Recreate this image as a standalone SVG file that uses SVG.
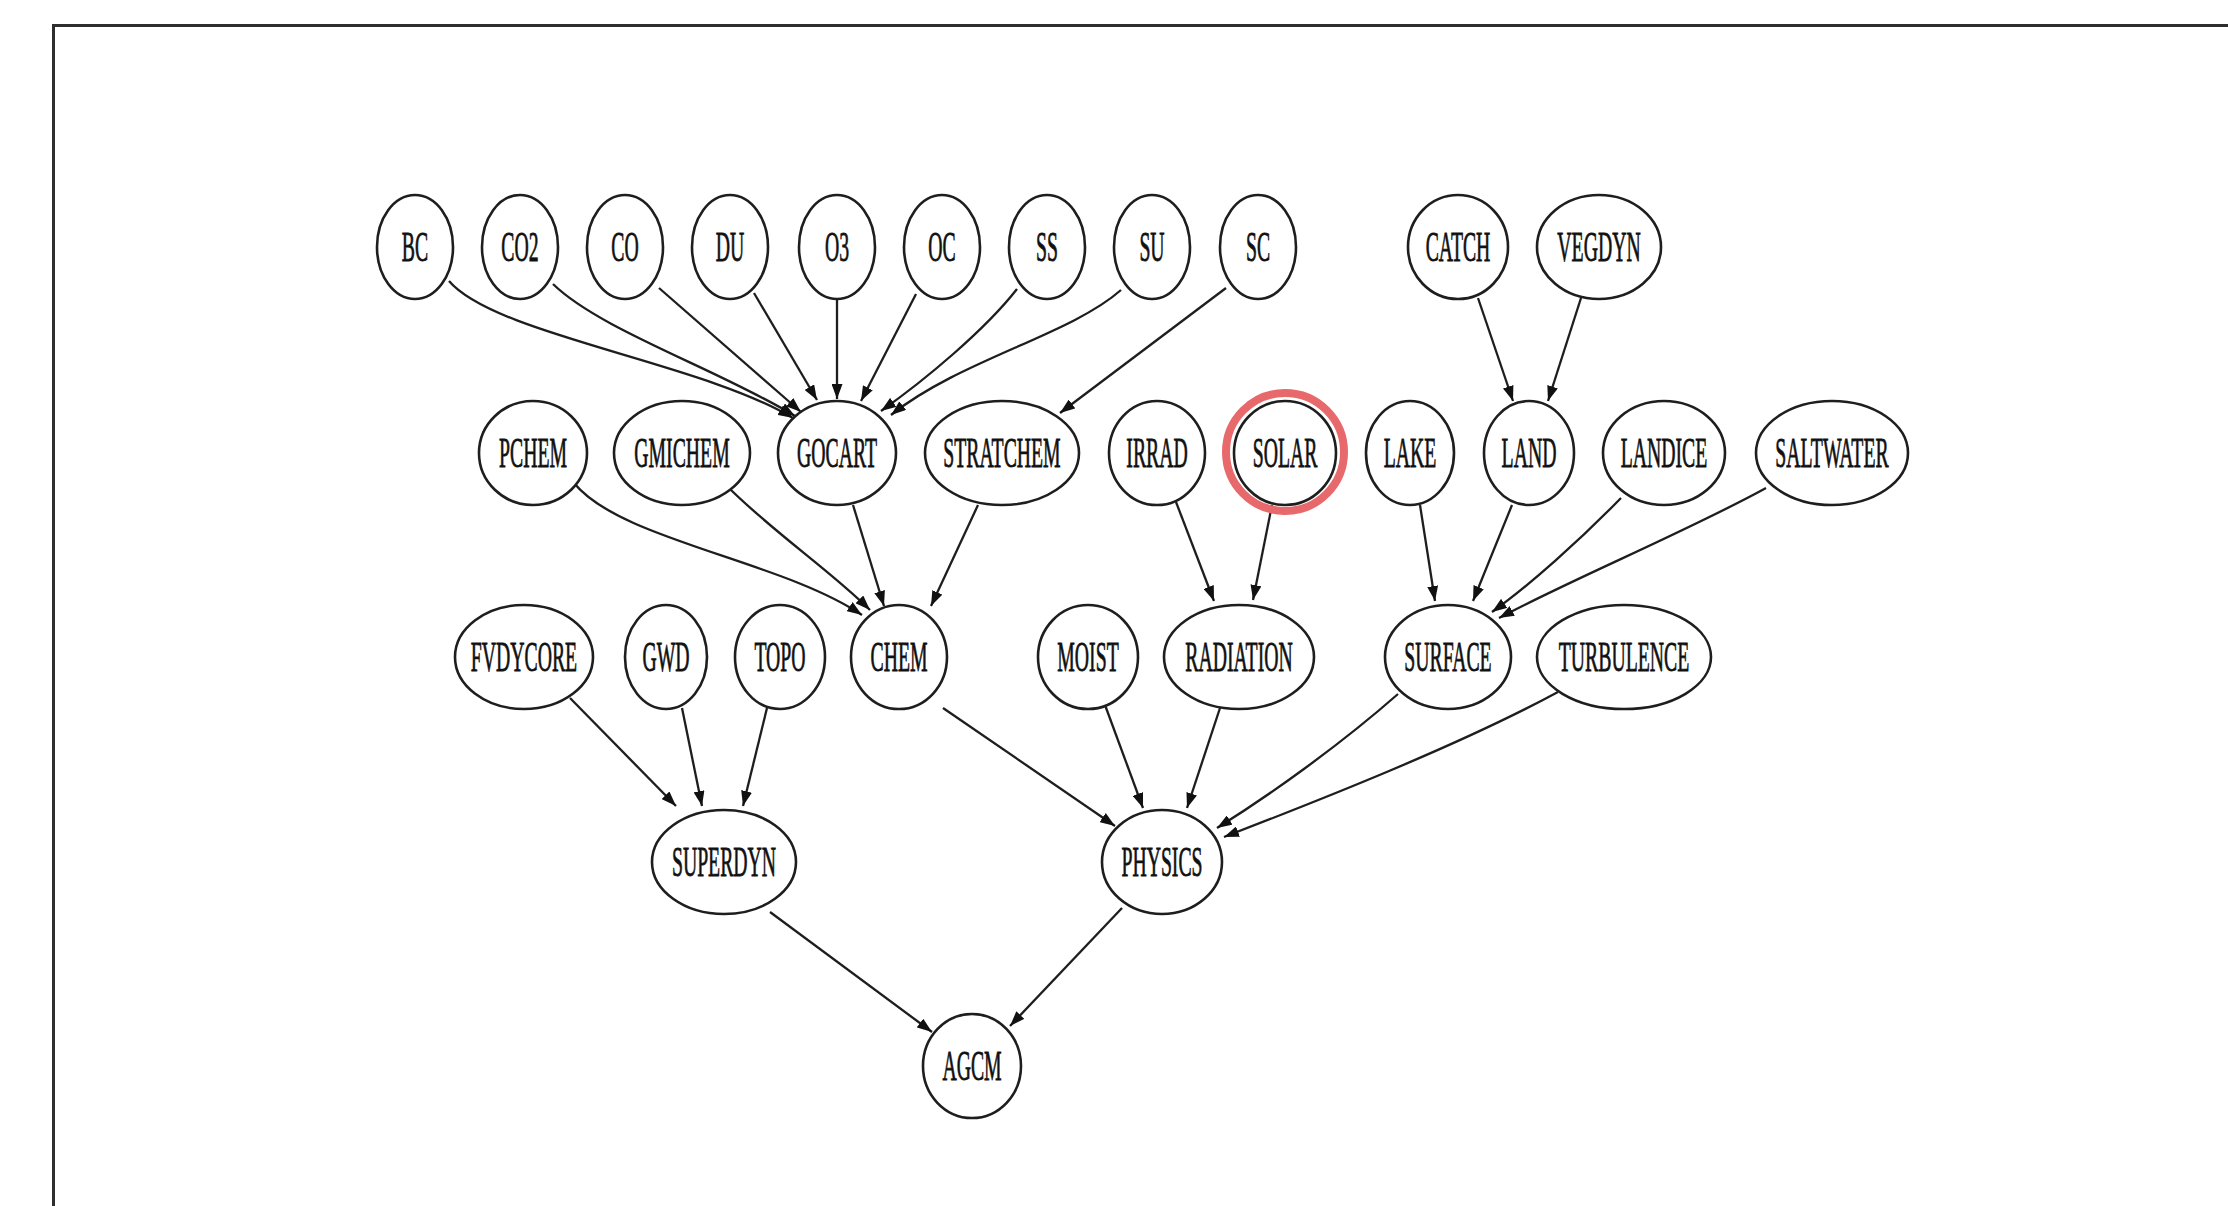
<svg xmlns="http://www.w3.org/2000/svg" width="2228" height="1206" viewBox="0 0 2228 1206">
<defs>
<style>
.node ellipse{fill:#ffffff;stroke:#1e1e1e;stroke-width:2.6}
.node text{font-family:"Liberation Serif","Times New Roman",serif;font-size:42px;fill:#111111;stroke:#111111;stroke-width:0.8;text-anchor:middle}
.edges path{fill:none;stroke:#1e1e1e;stroke-width:2.3}
.frame{fill:none;stroke:#2e2e2e;stroke-width:3}
.ring{fill:none;stroke:#E8696B;stroke-width:8}
</style>
<marker id="arr" markerUnits="userSpaceOnUse" markerWidth="16" markerHeight="11" refX="15" refY="5.5" orient="auto">
<path d="M0,0 L15,5.5 L0,11 z" fill="#111111"/>
</marker>
</defs>
<rect width="2228" height="1206" fill="#ffffff"/>
<path class="frame" d="M53.5,1206 L53.5,25.5 L2228,25.5"/>

<g id="connectors" class="edges">
<path marker-end="url(#arr)" d="M449,281 C495,335 700,362 793,418"/>
<path marker-end="url(#arr)" d="M553,284 C600,330 720,370 795,416"/>
<path marker-end="url(#arr)" d="M659,288 L801,412"/>
<path marker-end="url(#arr)" d="M754,293 L817,400"/>
<path marker-end="url(#arr)" d="M837,300 L837,399"/>
<path marker-end="url(#arr)" d="M916,294 L861,401"/>
<path marker-end="url(#arr)" d="M1017,289 C985,330 925,380 881,411"/>
<path marker-end="url(#arr)" d="M1121,290 C1070,335 960,360 891,415"/>
<path marker-end="url(#arr)" d="M1226,288 L1060,413"/>
<path marker-end="url(#arr)" d="M1478,298 L1513,401"/>
<path marker-end="url(#arr)" d="M1581,298 L1548,401"/>
<path marker-end="url(#arr)" d="M574,483 C620,540 780,560 862,615"/>
<path marker-end="url(#arr)" d="M726,485 C770,530 830,570 870,610"/>
<path marker-end="url(#arr)" d="M853,505 L884,606"/>
<path marker-end="url(#arr)" d="M978,505 L931,606"/>
<path marker-end="url(#arr)" d="M1176,502 L1214,601"/>
<path marker-end="url(#arr)" d="M1272,505 L1253,600"/>
<path marker-end="url(#arr)" d="M1420,505 L1435,601"/>
<path marker-end="url(#arr)" d="M1512,505 L1473,601"/>
<path marker-end="url(#arr)" d="M1621,498 C1580,540 1530,585 1492,612"/>
<path marker-end="url(#arr)" d="M1766,488 C1690,530 1570,580 1499,618"/>
<path marker-end="url(#arr)" d="M570,698 L676,806"/>
<path marker-end="url(#arr)" d="M682,708 L702,806"/>
<path marker-end="url(#arr)" d="M767,708 L743,806"/>
<path marker-end="url(#arr)" d="M943,708 L1115,826"/>
<path marker-end="url(#arr)" d="M1105,705 L1143,808"/>
<path marker-end="url(#arr)" d="M1220,708 L1187,808"/>
<path marker-end="url(#arr)" d="M1398,694 C1340,745 1270,795 1217,828"/>
<path marker-end="url(#arr)" d="M1558,692 C1460,745 1320,800 1224,837"/>
<path marker-end="url(#arr)" d="M770,912 L932,1032"/>
<path marker-end="url(#arr)" d="M1122,908 L1010,1026"/>
</g>

<g id="BC" class="node"><ellipse cx="415" cy="247" rx="38" ry="52"/><text transform="translate(415,261) scale(0.47,1)">BC</text></g>
<g id="CO2" class="node"><ellipse cx="520" cy="247" rx="38" ry="52"/><text transform="translate(520,261) scale(0.47,1)">CO2</text></g>
<g id="CO" class="node"><ellipse cx="625" cy="247" rx="38" ry="52"/><text transform="translate(625,261) scale(0.47,1)">CO</text></g>
<g id="DU" class="node"><ellipse cx="730" cy="247" rx="38" ry="52"/><text transform="translate(730,261) scale(0.47,1)">DU</text></g>
<g id="O3" class="node"><ellipse cx="837" cy="247" rx="38" ry="52"/><text transform="translate(837,261) scale(0.47,1)">O3</text></g>
<g id="OC" class="node"><ellipse cx="942" cy="247" rx="38" ry="52"/><text transform="translate(942,261) scale(0.47,1)">OC</text></g>
<g id="SS" class="node"><ellipse cx="1047" cy="247" rx="38" ry="52"/><text transform="translate(1047,261) scale(0.47,1)">SS</text></g>
<g id="SU" class="node"><ellipse cx="1152" cy="247" rx="38" ry="52"/><text transform="translate(1152,261) scale(0.47,1)">SU</text></g>
<g id="SC" class="node"><ellipse cx="1258" cy="247" rx="38" ry="52"/><text transform="translate(1258,261) scale(0.47,1)">SC</text></g>
<g id="CATCH" class="node"><ellipse cx="1458" cy="247" rx="50" ry="52"/><text transform="translate(1458,261) scale(0.47,1)">CATCH</text></g>
<g id="VEGDYN" class="node"><ellipse cx="1599" cy="247" rx="62" ry="52"/><text transform="translate(1599,261) scale(0.47,1)">VEGDYN</text></g>

<g id="PCHEM" class="node"><ellipse cx="533" cy="453" rx="54" ry="52"/><text transform="translate(533,467) scale(0.47,1)">PCHEM</text></g>
<g id="GMICHEM" class="node"><ellipse cx="682" cy="453" rx="68" ry="52"/><text transform="translate(682,467) scale(0.47,1)">GMICHEM</text></g>
<g id="GOCART" class="node"><ellipse cx="837" cy="453" rx="59" ry="52"/><text transform="translate(837,467) scale(0.47,1)">GOCART</text></g>
<g id="STRATCHEM" class="node"><ellipse cx="1002" cy="453" rx="77" ry="52"/><text transform="translate(1002,467) scale(0.47,1)">STRATCHEM</text></g>
<g id="IRRAD" class="node"><ellipse cx="1157" cy="453" rx="48" ry="52"/><text transform="translate(1157,467) scale(0.47,1)">IRRAD</text></g>
<g id="SOLAR" class="node"><ellipse cx="1285" cy="453" rx="51" ry="52"/><text transform="translate(1285,467) scale(0.47,1)">SOLAR</text></g>
<g id="LAKE" class="node"><ellipse cx="1410" cy="453" rx="44" ry="52"/><text transform="translate(1410,467) scale(0.47,1)">LAKE</text></g>
<g id="LAND" class="node"><ellipse cx="1529" cy="453" rx="45" ry="52"/><text transform="translate(1529,467) scale(0.47,1)">LAND</text></g>
<g id="LANDICE" class="node"><ellipse cx="1664" cy="453" rx="61" ry="52"/><text transform="translate(1664,467) scale(0.47,1)">LANDICE</text></g>
<g id="SALTWATER" class="node"><ellipse cx="1832" cy="453" rx="76" ry="52"/><text transform="translate(1832,467) scale(0.47,1)">SALTWATER</text></g>

<g id="FVDYCORE" class="node"><ellipse cx="524" cy="657" rx="69" ry="52"/><text transform="translate(524,671) scale(0.47,1)">FVDYCORE</text></g>
<g id="GWD" class="node"><ellipse cx="666" cy="657" rx="41" ry="52"/><text transform="translate(666,671) scale(0.47,1)">GWD</text></g>
<g id="TOPO" class="node"><ellipse cx="780" cy="657" rx="45" ry="52"/><text transform="translate(780,671) scale(0.47,1)">TOPO</text></g>
<g id="CHEM" class="node"><ellipse cx="899" cy="657" rx="48" ry="52"/><text transform="translate(899,671) scale(0.47,1)">CHEM</text></g>
<g id="MOIST" class="node"><ellipse cx="1088" cy="657" rx="50" ry="52"/><text transform="translate(1088,671) scale(0.47,1)">MOIST</text></g>
<g id="RADIATION" class="node"><ellipse cx="1239" cy="657" rx="75" ry="52"/><text transform="translate(1239,671) scale(0.47,1)">RADIATION</text></g>
<g id="SURFACE" class="node"><ellipse cx="1448" cy="657" rx="63" ry="52"/><text transform="translate(1448,671) scale(0.47,1)">SURFACE</text></g>
<g id="TURBULENCE" class="node"><ellipse cx="1624" cy="657" rx="87" ry="52"/><text transform="translate(1624,671) scale(0.47,1)">TURBULENCE</text></g>

<g id="SUPERDYN" class="node"><ellipse cx="724" cy="862" rx="72" ry="52"/><text transform="translate(724,876) scale(0.47,1)">SUPERDYN</text></g>
<g id="PHYSICS" class="node"><ellipse cx="1162" cy="862" rx="60" ry="52"/><text transform="translate(1162,876) scale(0.47,1)">PHYSICS</text></g>

<g id="AGCM" class="node"><ellipse cx="972" cy="1066" rx="49" ry="52"/><text transform="translate(972,1080) scale(0.47,1)">AGCM</text></g>

<g id="highlight"><circle class="ring" cx="1285" cy="452" r="59"/></g>
</svg>
